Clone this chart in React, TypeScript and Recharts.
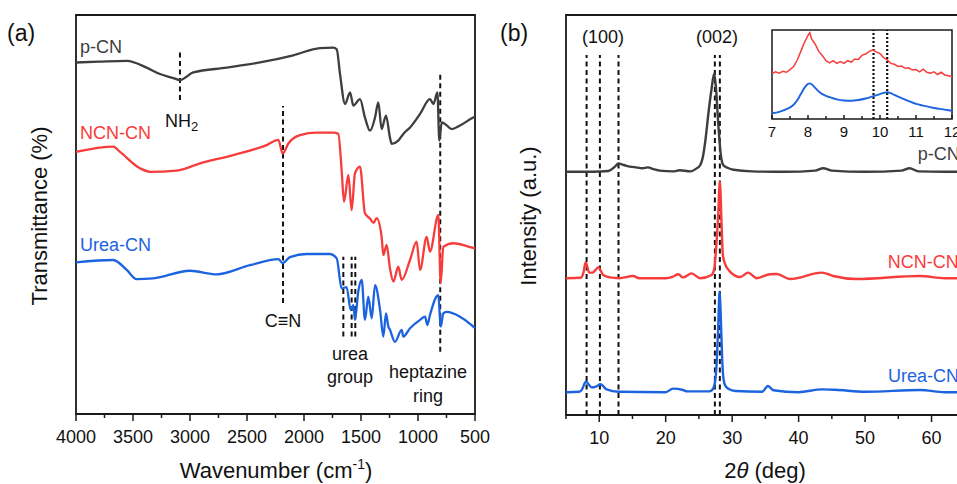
import React from 'react';
import { LineChart, Line, XAxis, YAxis, ReferenceLine, ReferenceArea } from 'recharts';

const FONT = '"Liberation Sans", Arial, Helvetica, sans-serif';
const AXIS = '#1a1a1a';
const GRAY = '#3e3e3e';
const RED = '#f83c3c';
const BLUE = '#1c63e0';

// ---------- (a) FTIR ----------
const pcnWavenumber = [4000, 3800, 3555, 3380, 3263, 3146, 3088, 2971, 2678, 2386,
  2094, 1860, 1743, 1713, 1684, 1640, 1596, 1567, 1509, 1465,
  1421, 1377, 1348, 1319, 1281, 1246, 1231, 1173, 1129, 1070,
  982, 895, 865, 830, 813, 792, 763, 705, 632, 515,
  500];
const pcnTransmittance = [88.1, 88.3, 88.5, 86.8, 85.2, 84.2, 83.7, 85.6, 86.8, 88.1,
  89.9, 91.7, 91.8, 91.4, 85.2, 77.7, 80.6, 77.3, 78.9, 74.3,
  71.0, 74.3, 78.1, 71.4, 74.8, 69.3, 67.7, 68.5, 70.2, 71.8,
  75.2, 78.9, 77.7, 80.6, 68.5, 73.1, 72.7, 71.4, 72.3, 74.3,
  74.5];

const ncnWavenumber = [4000, 3673, 3614, 3439, 3351, 3117, 2912, 2620, 2327, 2225,
  2187, 2137, 2035, 1889, 1743, 1699, 1670, 1649, 1611, 1582,
  1553, 1509, 1465, 1421, 1390, 1363, 1319, 1304, 1275, 1246,
  1216, 1173, 1143, 1070, 1012, 982, 924, 895, 822, 801,
  778, 690, 573, 500];
const ncnTransmittance = [65.7, 67.0, 65.7, 61.6, 60.7, 61.0, 62.8, 64.9, 67.4, 68.7,
  65.3, 67.8, 69.9, 70.5, 70.5, 70.2, 61.2, 53.2, 59.9, 51.1,
  60.3, 62.0, 50.3, 49.0, 47.9, 49.1, 44.4, 39.8, 42.4, 36.5,
  33.2, 36.9, 33.6, 38.6, 43.2, 36.1, 44.4, 40.7, 49.9, 32.8,
  41.9, 42.8, 42.1, 41.5];

const ureaWavenumber = [4000, 3673, 3555, 3468, 3322, 3000, 2766, 2474, 2225, 2187,
  2123, 1977, 1772, 1713, 1670, 1626, 1591, 1567, 1553, 1524,
  1494, 1465, 1436, 1406, 1377, 1333, 1304, 1281, 1260, 1246,
  1202, 1143, 1129, 1070, 982, 938, 918, 895, 822, 801,
  778, 749, 632, 530, 500];
const ureaTransmittance = [38.0, 38.6, 36.1, 33.8, 34.0, 35.9, 35.0, 37.3, 38.8, 37.8,
  39.3, 40.1, 40.1, 39.0, 31.5, 31.8, 26.1, 27.3, 23.6, 30.7,
  33.6, 23.6, 29.4, 24.0, 32.3, 26.1, 19.4, 25.2, 21.9, 21.1,
  18.1, 21.1, 19.4, 21.5, 23.6, 24.4, 22.3, 24.8, 29.8, 21.9,
  25.2, 25.6, 24.4, 22.3, 21.5];

const ftirTicks = [500, 750, 1000, 1250, 1500, 1750, 2000, 2250, 2500, 2750, 3000, 3250, 3500, 3750, 4000];

// marker lines (wavenumber, from, to)
const nh2Line = { x: 3088, from: 78.7, to: 91.2 };
const cnLine = { x: 2184, from: 27.8, to: 77.2 };
const heptazineLine = { x: 805, from: 15.6, to: 85 };
const ureaGroupLines = [1655, 1582, 1550];
const ureaGroupRange = [19.4, 39.4];

// ---------- (b) XRD ----------
const pcnTheta = [5, 9, 11.4, 12.3, 12.9, 13.5, 14.1, 15.5, 16.5, 17.3,
  18.3, 19.1, 21.1, 22.1, 23.7, 24.6, 25.2, 25.65, 26.0, 26.4,
  26.9, 27.3, 27.6, 27.9, 28.3, 28.65, 29.3, 30.2, 33, 38,
  42.5, 43.7, 45, 50, 55.5, 56.7, 58, 62, 70];
const pcnIntensity = [60.8, 60.8, 61.0, 62.0, 62.9, 62.6, 62.3, 61.9, 61.7, 61.9,
  61.4, 61.1, 60.9, 61.2, 60.9, 61.6, 62.5, 65.0, 69.0, 75.0,
  81.5, 85.4, 81.0, 73.0, 65.0, 62.5, 61.8, 61.3, 60.9, 60.8,
  61.1, 61.7, 61.1, 60.8, 61.1, 61.7, 60.9, 60.8, 60.8];

const ncnTheta = [5, 7.2, 7.6, 7.96, 8.5, 9.0, 9.36, 9.86, 10.6, 11.6,
  13, 15.1, 16, 20, 21.1, 21.9, 22.6, 23.9, 25.2, 26.9,
  27.3, 27.6, 27.9, 28.15, 28.4, 28.6, 28.9, 29.7, 31.2, 32.4,
  33.7, 35.7, 36.7, 38.7, 43.5, 45.2, 48.7, 58.2, 62, 70];
const ncnIntensity = [34.2, 34.3, 35.4, 38.2, 35.6, 35.6, 36.1, 36.9, 35.0, 34.4,
  34.2, 34.75, 34.2, 34.2, 34.6, 35.2, 34.4, 35.4, 34.2, 35.0,
  36.5, 42, 50, 58.3, 48, 40, 37.9, 35.8, 34.5, 35.6,
  34.2, 35.2, 35.25, 34.0, 35.6, 34.75, 34.0, 34.75, 34.2, 34.2];

const ureaTheta = [5, 7.0, 7.36, 8.0, 8.87, 9.5, 10.2, 11.1, 12.9, 20,
  21.1, 22.6, 23.2, 26.5, 27.0, 27.4, 27.7, 27.9, 28.1, 28.3,
  28.5, 28.7, 29.0, 29.5, 30.5, 34.5, 35.4, 36.2, 40, 43.5,
  45.5, 50, 58.3, 62, 70];
const ureaIntensity = [5.7, 5.8, 6.25, 8.3, 6.9, 7.1, 7.7, 6.4, 5.8, 5.7,
  6.6, 6.25, 5.9, 5.9, 6.3, 8.0, 14, 22, 30.8, 24,
  14, 9, 7.2, 6.5, 6.0, 5.8, 7.25, 6.2, 5.7, 6.4,
  6.3, 5.8, 6.25, 5.7, 5.7];

const xrdTicks = [5, 10, 15, 20, 25, 30, 35, 40, 45, 50, 55, 60, 65, 70];
const plane100Lines = [8.1, 10.1, 12.9];
const plane002Lines = [27.4, 28.15];
const xrdLineTop = 90;

// ---------- inset ----------
const insetNcnTheta = [7.0, 7.1, 7.2, 7.3, 7.4, 7.5, 7.6, 7.7, 7.8, 7.9,
  8.0, 8.05, 8.1, 8.2, 8.3, 8.4, 8.5, 8.6, 8.7, 8.8,
  8.9, 9.0, 9.1, 9.2, 9.3, 9.4, 9.5, 9.6, 9.7, 9.8,
  9.9, 10.0, 10.1, 10.2, 10.3, 10.4, 10.5, 10.6, 10.7, 10.8,
  10.9, 11.0, 11.1, 11.2, 11.3, 11.4, 11.5, 11.6, 11.7, 11.8,
  11.9, 12.0];
const insetNcnIntensity = [51, 53, 51.5, 53.5, 52.5, 55.5, 59, 66, 76, 86,
  94, 97, 90, 84, 76, 71, 65.5, 63, 65.5, 62.5,
  64.5, 62.5, 65.5, 64, 67.5, 67, 71.5, 73, 76, 77.5,
  75.5, 73.5, 69, 66.5, 62.5, 61.5, 59, 59.5, 57, 57.5,
  55, 55.5, 53, 56, 52.5, 51.5, 53, 50, 52.5, 49.5,
  48.5, 47.5];
const insetUreaTheta = [7.0, 7.2, 7.4, 7.5, 7.6, 7.7, 7.8, 7.9, 8.0, 8.05,
  8.1, 8.2, 8.3, 8.4, 8.5, 8.6, 8.8, 9.0, 9.2, 9.4,
  9.6, 9.8, 10.0, 10.1, 10.2, 10.3, 10.4, 10.6, 10.8, 11.0,
  11.2, 11.5, 11.8, 12.0];
const insetUreaIntensity = [6.4, 8, 11, 13, 16, 21, 28, 35, 39.5, 40,
  39, 35, 31, 28, 26, 24.5, 22, 20.8, 20.5, 21.3,
  23, 25.5, 28, 29.3, 30, 29, 27, 23.5, 20, 17,
  15, 12.3, 10.5, 9.3];
const insetTicks = [7, 7.5, 8, 8.5, 9, 9.5, 10, 10.5, 11, 11.5, 12];
const insetDotLines = [9.82, 10.2];

const zip = (xs: number[], ys: number[]) => xs.map((x, i) => ({ x, y: ys[i] }));

const makeTick = (isMajor: (v: number) => boolean, majorLen: number, minorLen: number, labelDy: number, fontSize: number) =>
  (props: any) => {
    const { x, y, payload } = props;
    const v = payload.value;
    const major = isMajor(v);
    return (
      <g>
        <line x1={x} y1={y} x2={x} y2={y + (major ? majorLen : minorLen)} stroke={AXIS} strokeWidth={1.5} />
        {major && (
          <text x={x} y={y + labelDy} textAnchor="middle" fontSize={fontSize} fontFamily={FONT} fill="#111">{v}</text>
        )}
      </g>
    );
  };

const ftirTick = makeTick((v) => v % 500 === 0, 7, 4, 29, 18);
const xrdTick = makeTick((v) => v % 10 === 0, 7, 4, 29, 18);
const insetTick = makeTick((v) => Number.isInteger(v), -4, -3, 18, 15);

const dash = { stroke: '#111', strokeWidth: 2, strokeDasharray: '5 3.5' };

export default function App() {
  const t = (x: number, y: number, s: string, color = '#111', size = 18, anchor: 'start' | 'middle' | 'end' = 'start') => (
    <text x={x} y={y} fill={color} fontSize={size} fontFamily={FONT} textAnchor={anchor}>{s}</text>
  );
  return (
    <div style={{ position: 'absolute', left: 0, top: 0, width: 957, height: 484, overflow: 'hidden', background: '#fff' }}>
      {/* (a) FTIR */}
      <div style={{ position: 'absolute', left: 0, top: 0 }}>
        <LineChart width={495} height={484} margin={{ top: 15, right: 20, left: 76, bottom: 40 }}>
          <XAxis dataKey="x" type="number" domain={[500, 4000]} reversed ticks={ftirTicks} interval={0}
            axisLine={false} tickLine={false} tickSize={0} tickMargin={0} tick={ftirTick} height={30} />
          <YAxis hide type="number" domain={[0, 100]} />
          <ReferenceArea x1={500} x2={4000} y1={0} y2={100} fill="none" fillOpacity={0} stroke={AXIS} strokeWidth={1.8} />
          <ReferenceLine segment={[{ x: nh2Line.x, y: nh2Line.from }, { x: nh2Line.x, y: nh2Line.to }]} {...dash} />
          <ReferenceLine segment={[{ x: cnLine.x, y: cnLine.from }, { x: cnLine.x, y: cnLine.to }]} {...dash} />
          <ReferenceLine segment={[{ x: heptazineLine.x, y: heptazineLine.from }, { x: heptazineLine.x, y: heptazineLine.to }]} {...dash} />
          {ureaGroupLines.map((w) => (
            <ReferenceLine key={w} segment={[{ x: w, y: ureaGroupRange[0] }, { x: w, y: ureaGroupRange[1] }]} {...dash} />
          ))}
          <Line data={zip(pcnWavenumber, pcnTransmittance)} dataKey="y" type="monotone" stroke={GRAY} strokeWidth={2.3} dot={false} isAnimationActive={false} />
          <Line data={zip(ncnWavenumber, ncnTransmittance)} dataKey="y" type="monotone" stroke={RED} strokeWidth={2.3} dot={false} isAnimationActive={false} />
          <Line data={zip(ureaWavenumber, ureaTransmittance)} dataKey="y" type="monotone" stroke={BLUE} strokeWidth={2.3} dot={false} isAnimationActive={false} />
        </LineChart>
      </div>

      {/* (b) XRD */}
      <div style={{ position: 'absolute', left: 490, top: 0, width: 467, height: 484, overflow: 'hidden' }}>
        <LineChart width={520} height={484} margin={{ top: 15, right: 12, left: 76, bottom: 39 }}>
          <XAxis dataKey="x" type="number" domain={[5, 70]} ticks={xrdTicks} interval={0}
            axisLine={false} tickLine={false} tickSize={0} tickMargin={0} tick={xrdTick} height={30} />
          <YAxis hide type="number" domain={[0, 100]} />
          <ReferenceArea x1={5} x2={70} y1={0} y2={100} fill="none" fillOpacity={0} stroke={AXIS} strokeWidth={1.8} />
          {plane100Lines.concat(plane002Lines).map((v) => (
            <ReferenceLine key={v} segment={[{ x: v, y: 0 }, { x: v, y: xrdLineTop }]} {...dash} />
          ))}
          <Line data={zip(pcnTheta, pcnIntensity)} dataKey="y" type="monotone" stroke={GRAY} strokeWidth={2.4} dot={false} isAnimationActive={false} />
          <Line data={zip(ncnTheta, ncnIntensity)} dataKey="y" type="monotone" stroke={RED} strokeWidth={2.4} dot={false} isAnimationActive={false} />
          <Line data={zip(ureaTheta, ureaIntensity)} dataKey="y" type="monotone" stroke={BLUE} strokeWidth={2.4} dot={false} isAnimationActive={false} />
        </LineChart>
      </div>

      {/* inset */}
      <div style={{ position: 'absolute', left: 762, top: 20 }}>
        <LineChart width={200} height={130} margin={{ top: 10, right: 10, left: 10, bottom: 1 }}>
          <XAxis dataKey="x" type="number" domain={[7, 12]} ticks={insetTicks} interval={0}
            axisLine={false} tickLine={false} tickSize={0} tickMargin={0} tick={insetTick} height={30} />
          <YAxis hide type="number" domain={[0, 100]} />
          <ReferenceArea x1={7} x2={12} y1={0} y2={100} fill="none" fillOpacity={0} stroke={AXIS} strokeWidth={1.5} />
          {insetDotLines.map((v) => (
            <ReferenceLine key={v} x={v} stroke="#111" strokeWidth={2.2} strokeDasharray="2 2" />
          ))}
          <Line data={zip(insetNcnTheta, insetNcnIntensity)} dataKey="y" type="linear" stroke={RED} strokeWidth={1.5} dot={false} isAnimationActive={false} />
          <Line data={zip(insetUreaTheta, insetUreaIntensity)} dataKey="y" type="monotone" stroke={BLUE} strokeWidth={1.9} dot={false} isAnimationActive={false} />
        </LineChart>
      </div>

      {/* text overlay */}
      <svg width={957} height={484} style={{ position: 'absolute', left: 0, top: 0, pointerEvents: 'none' }}>
        {t(7, 41, '(a)', '#111', 23)}
        {t(80, 52.5, 'p-CN', GRAY)}
        <text x={165} y={126.5} fill="#111" fontSize={18} fontFamily={FONT}>NH<tspan fontSize={13} dy={4}>2</tspan></text>
        {t(80, 138.5, 'NCN-CN', RED)}
        {t(80, 250.5, 'Urea-CN', BLUE)}
        {t(283, 326.5, 'C≡N', '#111', 18, 'middle')}
        {t(350, 360, 'urea', '#111', 18, 'middle')}
        {t(350, 383, 'group', '#111', 18, 'middle')}
        {t(428, 378, 'heptazine', '#111', 18, 'middle')}
        {t(428, 401.5, 'ring', '#111', 18, 'middle')}
        <text x={276} y={478} fill="#111" fontSize={22} fontFamily={FONT} textAnchor="middle">Wavenumber (cm<tspan fontSize={14} dy={-9}>-1</tspan><tspan dy={9}>)</tspan></text>
        <text x={46.5} y={216} fill="#111" fontSize={22} fontFamily={FONT} textAnchor="middle" transform="rotate(-90 46.5 216)">Transmittance (%)</text>

        {t(500, 41, '(b)', '#111', 23)}
        {t(603, 43, '(100)', '#111', 18, 'middle')}
        {t(717, 43, '(002)', '#111', 18, 'middle')}
        {t(917.7, 160, 'p-CN', GRAY)}
        {t(887.7, 268, 'NCN-CN', RED)}
        {t(888, 381.5, 'Urea-CN', BLUE)}
        <text x={765} y={478} fill="#111" fontSize={22} fontFamily={FONT} textAnchor="middle">2<tspan fontStyle="italic">θ</tspan> (deg)</text>
        <text x={536} y={216} fill="#111" fontSize={22} fontFamily={FONT} textAnchor="middle" transform="rotate(-90 536 216)">Intensity (a.u.)</text>
      </svg>
    </div>
  );
}
